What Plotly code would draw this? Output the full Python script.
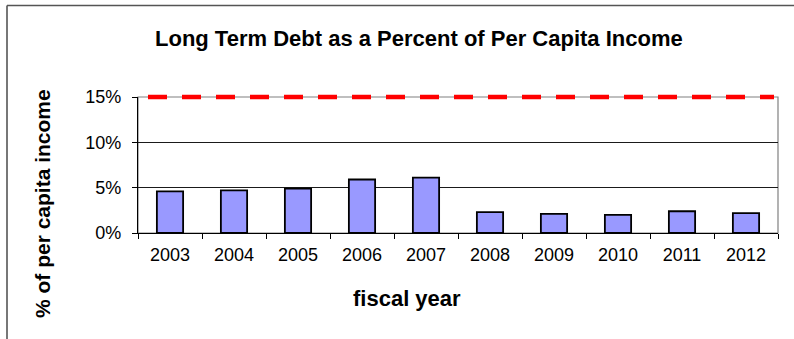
import plotly.graph_objects as go

# Long term debt relative to per capita income, by fiscal year
fiscal_years = ["2003", "2004", "2005", "2006", "2007",
                "2008", "2009", "2010", "2011", "2012"]
debt_pct = [4.6, 4.7, 4.9, 5.9, 6.1, 2.3, 2.1, 2.0, 2.4, 2.2]
policy_limit_pct = 15
y_range = [0, 15]
y_ticks = [0, 5, 10, 15]
y_tick_labels = ["0%", "5%", "10%", "15%"]

W, H = 794, 339
L, R, T, B = 138, 16, 97, 106
PW, PH = W - L - R, H - T - B


def px_x(x):
    return (x - L) / PW


def px_y(y):
    return (H - B - y) / PH


FONT = "Arial, Liberation Sans, sans-serif"

fig = go.Figure()
fig.add_trace(go.Bar(
    x=fiscal_years, y=debt_pct,
    marker=dict(color="#9999FF", line=dict(color="#000000", width=1.8)),
    width=0.41, hoverinfo="x+y",
))

# limit line position in paper units, so it is not clipped at the plot edge
limit_frac = (policy_limit_pct - y_range[0]) / (y_range[1] - y_range[0])

shapes = [
    # plot area border (grey top and right)
    dict(type="rect", xref="paper", yref="paper", x0=0, x1=1, y0=0, y1=1,
         line=dict(color="#808080", width=1.2), layer="below"),
    # 15% limit line
    dict(type="line", xref="paper", yref="paper", x0=px_x(148), x1=px_x(774),
         y0=limit_frac, y1=limit_frac,
         line=dict(color="#FF0000", width=4.5, dash="19px,15px"), layer="above"),
    # outer chart frame
    dict(type="line", xref="paper", yref="paper", x0=px_x(7), x1=px_x(7),
         y0=px_y(5.5), y1=px_y(H + 20), line=dict(color="#555555", width=1.6)),
    dict(type="line", xref="paper", yref="paper", x0=px_x(7), x1=px_x(W + 20),
         y0=px_y(5.5), y1=px_y(5.5), line=dict(color="#555555", width=1.6)),
]

annotations = [
    dict(text="<b>Long Term Debt as a Percent of Per Capita Income</b>",
         xref="paper", yref="paper", x=px_x(419), y=px_y(38),
         xanchor="center", yanchor="middle", showarrow=False,
         font=dict(family=FONT, size=22, color="#000000")),
    dict(text="<b>fiscal year</b>",
         xref="paper", yref="paper", x=px_x(407), y=px_y(298),
         xanchor="center", yanchor="middle", showarrow=False,
         font=dict(family=FONT, size=22, color="#000000")),
    dict(text="<b>% of per capita income</b>", textangle=-90,
         xref="paper", yref="paper", x=px_x(42), y=px_y(204),
         xanchor="center", yanchor="middle", showarrow=False,
         font=dict(family=FONT, size=21, color="#000000")),
]

fig.update_layout(
    width=W, height=H,
    margin=dict(l=L, r=R, t=T, b=B),
    paper_bgcolor="#FFFFFF", plot_bgcolor="#FFFFFF",
    showlegend=False,
    bargap=0.59,
    font=dict(family=FONT, size=18, color="#000000"),
    shapes=shapes,
    annotations=annotations,
    xaxis=dict(
        type="category", tickson="boundaries",
        ticks="outside", ticklen=5, tickcolor="#000000", tickwidth=1,
        ticklabelstandoff=5,
        showline=True, linecolor="#000000", linewidth=1.2,
        showgrid=False, zeroline=False,
        tickfont=dict(family=FONT, size=18, color="#000000"),
    ),
    yaxis=dict(
        range=y_range, tickvals=y_ticks, ticktext=y_tick_labels,
        ticks="outside", ticklen=5, tickcolor="#000000", tickwidth=1,
        ticklabelstandoff=7,
        showline=True, linecolor="#000000", linewidth=1.2,
        showgrid=True, gridcolor="#1a1a1a", gridwidth=1,
        zeroline=False,
        tickfont=dict(family=FONT, size=18, color="#000000"),
    ),
)

fig.write_html("out.html")
